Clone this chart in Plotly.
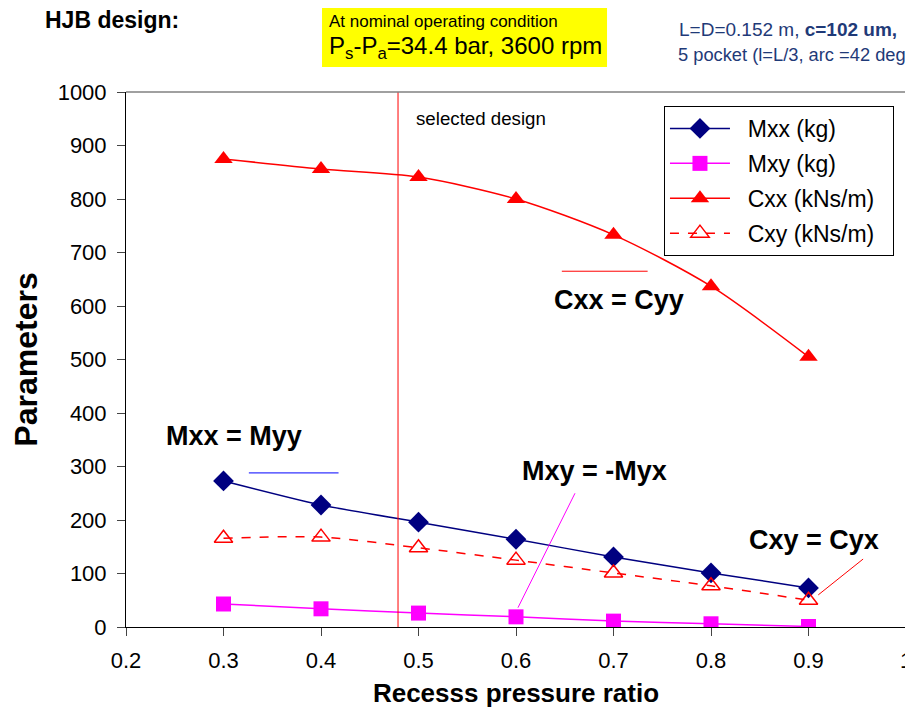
import plotly.graph_objects as go

ratio = [0.3, 0.4, 0.5, 0.6, 0.7, 0.8, 0.9]
mxx = [273, 228, 196, 164, 131, 101, 73]
mxy = [43, 34, 26, 19, 11, 6, 1]
cxx = [875, 856, 841, 800, 733, 637, 505]
cxy = [166, 168, 148, 125, 101, 77, 50]
selected_ratio = 0.479

FONT = "Arial, Liberation Sans, sans-serif"
PAD = "\u00a0\u00a0"
TPAD = "\u00a0\u00a0"

fig = go.Figure()
fig.add_trace(go.Scatter(x=ratio, y=mxx, name=PAD + "Mxx (kg)", mode="lines+markers",
                         line=dict(color="#000080", width=1.5, shape="spline", smoothing=0.5),
                         marker=dict(symbol="diamond", size=16, color="#000080"), legendgroup="a"))
fig.add_trace(go.Scatter(x=ratio, y=mxy, name=PAD + "Mxy (kg)", mode="lines+markers",
                         line=dict(color="#FF00FF", width=1.5, shape="spline", smoothing=0.5),
                         marker=dict(symbol="square", size=15, color="#FF00FF"), legendgroup="b"))
fig.add_trace(go.Scatter(x=ratio, y=cxx, name=PAD + "Cxx (kNs/m)" + TPAD, mode="lines+markers",
                         line=dict(color="#FF0000", width=1.5, shape="spline", smoothing=0.8),
                         marker=dict(symbol="triangle-up", size=16, color="#FF0000"), legendgroup="c"))
fig.add_trace(go.Scatter(x=ratio, y=cxy, name=PAD + "Cxy (kNs/m)" + TPAD, mode="lines+markers",
                         line=dict(color="#FF0000", width=1.5, shape="spline", smoothing=0.8, dash="dash"),
                         marker=dict(symbol="triangle-up-open", size=16, color="#FF0000", line=dict(width=1.5)),
                         legendgroup="d"))

# selected design line
fig.add_shape(type="line", xref="x", yref="paper", x0=selected_ratio, x1=selected_ratio, y0=0, y1=1,
              line=dict(color="#FF0000", width=1))

# leader lines
fig.add_shape(type="line", x0=0.326, x1=0.418, y0=288, y1=288, line=dict(color="#0000FF", width=1))
fig.add_shape(type="line", x0=0.647, x1=0.735, y0=665, y1=665, line=dict(color="#FF0000", width=1))
fig.add_shape(type="line", x0=0.6605, x1=0.602, y0=250, y1=36, line=dict(color="#FF00FF", width=1))
fig.add_shape(type="line", x0=0.956, x1=0.91, y0=127, y1=60, line=dict(color="#FF0000", width=1))

# yellow box
fig.add_shape(type="rect", xref="paper", yref="paper", x0=0.2513, x1=0.6167, y0=1.0467, y1=1.1645,
              fillcolor="#FFFF00", line=dict(width=0), layer="below")

ann = [
    dict(text="<b>Mxx = Myy</b>", x=0.311, y=357),
    dict(text="<b>Cxx = Cyy</b>", x=0.706, y=611),
    dict(text="<b>Mxy = -Myx</b>", x=0.68, y=292),
    dict(text="<b>Cxy = Cyx</b>", x=0.9056, y=163),
]
for a in ann:
    fig.add_annotation(text=a["text"], x=a["x"], y=a["y"], xref="x", yref="y", showarrow=False,
                       xanchor="center", yanchor="middle",
                       font=dict(family=FONT, size=27, color="black"))
fig.add_annotation(text="selected design", x=0.495, y=951, xref="x", yref="y", xanchor="left",
                   yanchor="middle", showarrow=False, font=dict(family=FONT, size=18.7, color="black"))

fig.add_annotation(text="<b>HJB design:</b>", xref="paper", yref="paper", x=-0.018, y=1.1346,
                   xanchor="center", yanchor="middle",
                   showarrow=False, font=dict(family=FONT, size=23, color="black"))
fig.add_annotation(text="At nominal operating condition", xref="paper", yref="paper", x=0.2577, y=1.1327,
                   xanchor="left", yanchor="middle", showarrow=False,
                   font=dict(family=FONT, size=17, color="black"))
fig.add_annotation(text="P<sub>s</sub>-P<sub>a</sub>=34.4 bar, 3600 rpm", xref="paper", yref="paper",
                   x=0.2577, y=1.0841, xanchor="left", yanchor="middle", showarrow=False,
                   font=dict(family=FONT, size=24, color="black"))
fig.add_annotation(text="L=D=0.152 m, <b>c=102 um,</b>", xref="paper", yref="paper", x=0.7064, y=1.1159,
                   xanchor="left", yanchor="middle", showarrow=False,
                   font=dict(family=FONT, size=19, color="#1F3A78"))
fig.add_annotation(text="5 pocket (l=L/3, arc =42 deg)", xref="paper", yref="paper", x=0.7051, y=1.071,
                   xanchor="left", yanchor="middle", showarrow=False,
                   font=dict(family=FONT, size=18.3, color="#1F3A78"))

fig.update_layout(
    width=905, height=700,
    margin=dict(l=118, r=7, t=84, b=81, autoexpand=False),
    plot_bgcolor="white", paper_bgcolor="white",
    font=dict(family=FONT, size=22, color="black"),
    showlegend=True,
    legend=dict(x=0.6897, y=0.9738, xanchor="left", yanchor="top", bgcolor="white",
                bordercolor="black", borderwidth=1, font=dict(size=23),
                traceorder="grouped", tracegroupgap=2, itemwidth=60),
    xaxis=dict(range=[0.2, 1.0], dtick=0.1, tickformat=".1~f", ticks="outside", ticklen=8,
               showline=True, linecolor="black", mirror=False, showgrid=False, zeroline=False,
               ticklabelstandoff=6, automargin=False,
               title=dict(text="<b>Recesss pressure ratio</b>", font=dict(size=26), standoff=32)),
    yaxis=dict(range=[0, 1000], dtick=100, ticks="outside", ticklen=8,
               showline=True, linecolor="black", showgrid=False, zeroline=False,
               ticklabelstandoff=6, automargin=False,
               title=dict(text="<b>Parameters</b>", font=dict(size=32), standoff=10)),
)
# grey top/right frame
fig.add_shape(type="line", xref="paper", yref="paper", x0=0, x1=1, y0=1, y1=1, line=dict(color="#808080", width=1.5))
fig.add_shape(type="line", xref="paper", yref="paper", x0=1, x1=1, y0=0, y1=1, line=dict(color="#808080", width=1.5))

fig.write_html("out.html")
